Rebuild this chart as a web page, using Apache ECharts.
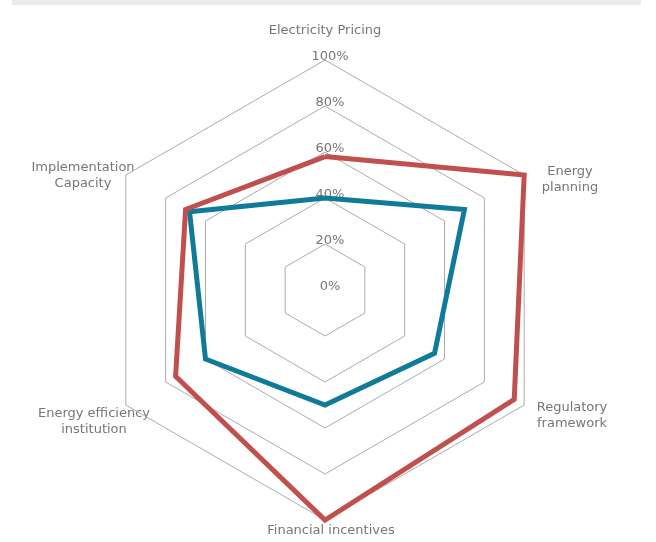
<!DOCTYPE html>
<html>
<head>
<meta charset="utf-8">
<script src="https://cdn.jsdelivr.net/npm/echarts@6/dist/echarts.min.js"></script>
<style>
  html, body { margin: 0; padding: 0; background: #ffffff; }
  #chart { width: 656px; height: 542px; }
</style>
</head>
<body>
<div id="chart"></div>
<script>
// Axes listed clockwise, starting from the top
const categories = [
  'Electricity Pricing',
  'Energy planning',
  'Regulatory framework',
  'Financial incentives',
  'Energy efficiency institution',
  'Implementation Capacity'
];
const seriesRed = [58, 100, 95, 100, 75, 70];
const seriesBlue = [40, 70, 55, 50, 60, 68];
const tickValues = [0, 20, 40, 60, 80, 100];

const CX = 325, CY = 290, R = 230;
const FONT = 'DejaVu Sans, Verdana, sans-serif';
const TEXT = '#767676';

// ECharts radar runs counter-clockwise: keep the first axis, reverse the rest
const order = [0].concat(categories.map((_, i) => i).slice(1).reverse());
const indicator = order.map(i => ({ name: categories[i], min: 0, max: 100 }));
const reorder = arr => order.map(i => arr[i]);

const chart = echarts.init(document.getElementById('chart'), null, { renderer: 'canvas' });

// Axis titles, broken over two lines where they wrap
const names = [
  { text: 'Electricity Pricing', x: 325, y: 31 },
  { text: 'Energy\nplanning', x: 570, y: 180 },
  { text: 'Regulatory\nframework', x: 572, y: 416 },
  { text: 'Financial incentives', x: 331, y: 531 },
  { text: 'Energy efficiency\ninstitution', x: 94, y: 422 },
  { text: 'Implementation\nCapacity', x: 83, y: 176 }
];

chart.setOption({
  animation: false,
  backgroundColor: '#ffffff',
  radar: {
    center: [CX, CY],
    radius: R,
    startAngle: 90,
    shape: 'polygon',
    splitNumber: 5,
    indicator: indicator,
    axisName: { show: false },
    axisLine: { show: false },
    axisTick: { show: false },
    axisLabel: { show: false },
    splitArea: { show: false },
    splitLine: { lineStyle: { color: '#ababab', width: 1 } }
  },
  polar: { center: [CX, CY], radius: R },
  angleAxis: {
    type: 'value', startAngle: 90, min: 0, max: 360, show: false
  },
  radiusAxis: {
    type: 'value',
    min: tickValues[0],
    max: tickValues[tickValues.length - 1],
    interval: 20,
    axisLine: { show: false },
    axisTick: { show: false },
    splitLine: { show: false },
    axisLabel: {
      formatter: '{value}%',
      color: TEXT,
      fontFamily: FONT,
      fontSize: 13,
      align: 'center',
      verticalAlign: 'bottom',
      lineHeight: 7,
      margin: -5
    }
  },
  graphic: [
    {
      type: 'rect',
      shape: { x: 12, y: 0, width: 629, height: 5 },
      style: { fill: '#ebebeb' },
      silent: true
    }
  ].concat(names.map(n => ({
    type: 'text',
    x: n.x,
    y: n.y,
    style: {
      text: n.text,
      fill: TEXT,
      font: '13px ' + FONT,
      align: 'center',
      verticalAlign: 'middle',
      lineHeight: 16
    },
    silent: true
  }))),
  series: [
    {
      type: 'radar',
      symbol: 'none',
      data: [
        {
          name: 'series2',
          value: reorder(seriesBlue),
          lineStyle: { color: '#0f7b99', width: 5, join: 'miter' }
        },
        {
          name: 'series1',
          value: reorder(seriesRed),
          lineStyle: { color: '#c0504d', width: 5, join: 'miter' }
        }
      ]
    }
  ]
});
</script>
</body>
</html>
